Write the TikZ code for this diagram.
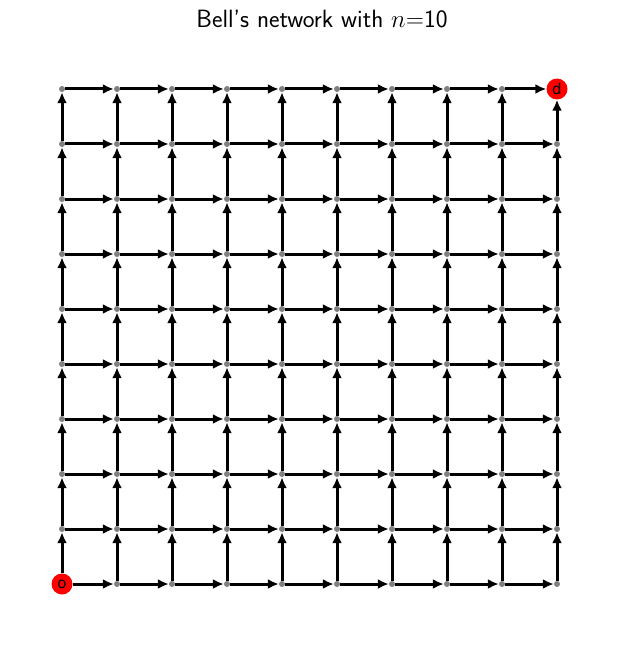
\documentclass[tikz,border=0pt]{standalone}
\usepackage{fontspec}
\newfontfamily\labfont{DejaVu Sans}
\usetikzlibrary{arrows.meta}
\begin{document}
\begin{tikzpicture}[x=1pt,y=-1pt,
  gnode/.style={circle,fill=gray,inner sep=0pt,minimum size=6pt},
  rnode/.style={circle,fill=red,inner sep=0pt,minimum size=21pt,font=\labfont\fontsize{15}{15}\selectfont},
  edge/.style={line width=3pt,-{Latex[length=11pt,width=10pt]}}]
\useasboundingbox (0,0) rectangle (619,647);
\node[font=\sffamily\fontsize{25}{29}\selectfont] (title) at (322,19) {Bell's network with $n$=10};
\foreach \i in {0,...,9}{
  \foreach \j in {0,...,9}{
    \node[gnode] (n\i-\j) at ({62+55*\i},{584-55*\j}) {};
  }
}
\node[rnode] (n0-0) at (62,584) {o};
\node[rnode] (n9-9) at (557,89) {d};
\foreach \i in {0,...,9}{
  \foreach \j in {0,...,9}{
    \pgfmathtruncatemacro{\ni}{\i+1}
    \pgfmathtruncatemacro{\nj}{\j+1}
    \ifnum\i<9 \draw[edge] (n\i-\j) -- (n\ni-\j); \fi
    \ifnum\j<9 \draw[edge] (n\i-\j) -- (n\i-\nj); \fi
  }
}
\end{tikzpicture}
\end{document}
